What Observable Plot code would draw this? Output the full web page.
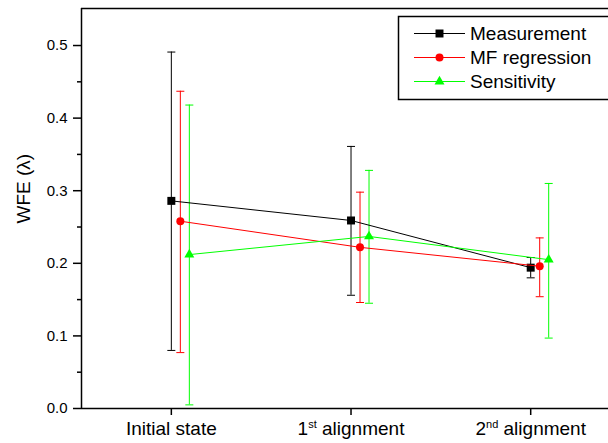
<!DOCTYPE html>
<html>
<head>
<meta charset="utf-8">
<script src="https://cdn.jsdelivr.net/npm/d3@7"></script>
<script src="https://cdn.jsdelivr.net/npm/@observablehq/plot@0.6"></script>
<style>
  html, body { margin: 0; padding: 0; background: #fff; overflow: hidden; }
  #chart { width: 608px; height: 443px; }
</style>
</head>
<body>
<div id="chart"></div>
<script>
// ---- data ----
const categories = ["Initial state", "1st alignment", "2nd alignment"];
const seriesNames = ["Measurement", "MF regression", "Sensitivity"];

const measurement     = [0.286, 0.259, 0.194];
const measurementLow  = [0.080, 0.156, 0.180];
const measurementHigh = [0.491, 0.361, 0.208];

const mfRegression     = [0.258, 0.222, 0.196];
const mfRegressionLow  = [0.077, 0.146, 0.154];
const mfRegressionHigh = [0.437, 0.298, 0.235];

const sensitivity     = [0.212, 0.237, 0.205];
const sensitivityLow  = [0.005, 0.145, 0.097];
const sensitivityHigh = [0.418, 0.328, 0.310];

const yTicks = [0, 0.1, 0.2, 0.3, 0.4, 0.5];
const yMinorTicks = [0.05, 0.15, 0.25, 0.35, 0.45];
const yLabel = "WFE (λ)";

// ---- styling ----
const colors = ["#000000", "#ff0000", "#00ff00"];
const symbols = ["square", "circle", "triangle"];
const radii = [4.5, 4, 3.7];
const offsets = [0, 9, 18];
const xDomain = [0.5, 3.433];
const yDomain = [0, 0.551];
const FONT = "'Liberation Sans', Arial, Helvetica, sans-serif";

const seriesValues = [
  [measurement, measurementLow, measurementHigh],
  [mfRegression, mfRegressionLow, mfRegressionHigh],
  [sensitivity, sensitivityLow, sensitivityHigh]
];

const capSymbol = {
  draw(context) { context.moveTo(-4, 0); context.lineTo(4, 0); }
};

const marks = [];
seriesValues.forEach(([vals, lo, hi], s) => {
  const rows = categories.map((c, i) => ({x: i + 1, y: vals[i], lo: lo[i], hi: hi[i]}));
  const o = {dx: offsets[s]};
  marks.push(
    Plot.ruleX(rows, {x: "x", y1: "lo", y2: "hi", stroke: colors[s], strokeWidth: 1, ...o}),
    Plot.dot(rows, {x: "x", y: "lo", symbol: capSymbol, fill: "none", stroke: colors[s], strokeWidth: 1, ...o}),
    Plot.dot(rows, {x: "x", y: "hi", symbol: capSymbol, fill: "none", stroke: colors[s], strokeWidth: 1, ...o})
  );
});
seriesValues.forEach(([vals], s) => {
  const rows = categories.map((c, i) => ({x: i + 1, y: vals[i]}));
  marks.push(
    Plot.line(rows, {x: "x", y: "y", stroke: colors[s], strokeWidth: 1, dx: offsets[s]}),
    Plot.dot(rows, {x: "x", y: "y", symbol: symbols[s], fill: colors[s], stroke: "none", r: radii[s], dx: offsets[s]})
  );
});

const chart = Plot.plot({
  width: 608,
  height: 443,
  marginLeft: 81,
  marginRight: 0,
  marginTop: 8,
  marginBottom: 35,
  style: {fontFamily: FONT, background: "#fff", color: "#000"},
  x: {type: "linear", domain: xDomain},
  y: {type: "linear", domain: yDomain},
  marks: [
    ...marks,
    Plot.ruleX([xDomain[0]], {stroke: "#000", strokeWidth: 1.5}),
    Plot.ruleY([yDomain[0]], {stroke: "#000", strokeWidth: 1.5}),
    Plot.ruleY([yDomain[1]], {stroke: "#000", strokeWidth: 1.5}),
    Plot.axisY({ticks: yTicks, tickSize: 8, tickPadding: 6, tickFormat: d3.format(".1f"),
                fontSize: 15, strokeWidth: 1.5, label: null}),
    Plot.axisY({ticks: yMinorTicks, tickSize: 4, tickFormat: () => "", strokeWidth: 1.5, label: null}),
    Plot.axisX({ticks: categories.map((c, i) => i + 1), tickSize: 7, tickPadding: 6,
                tickFormat: (d) => categories[d - 1], fontSize: 19, strokeWidth: 1.5, label: null}),
    Plot.text([yLabel], {text: (d) => d, frameAnchor: "left", rotate: -90, dx: -58, dy: 15,
                         fontSize: 19, fill: "#000"})
  ]
});

document.getElementById("chart").appendChild(chart);

// superscript ordinals in x tick labels
const svg = d3.select(chart);
svg.selectAll('[aria-label="x-axis tick label"] text').each(function () {
  const t = this.textContent;
  const m = t.match(/^(\d+)(st|nd|rd|th)(.*)$/);
  if (!m) return;
  const el = d3.select(this);
  el.text(null);
  el.append("tspan").text(m[1]);
  el.append("tspan").attr("font-size", 11).attr("dy", -7).text(m[2]);
  el.append("tspan").attr("dy", 7).text(m[3]);
});

// legend
const lg = svg.append("g").attr("font-family", FONT).attr("font-size", 19).attr("text-anchor", "start");
lg.append("rect").attr("x", 398.5).attr("y", 16.5).attr("width", 230).attr("height", 83)
  .attr("fill", "#fff").attr("stroke", "#000").attr("stroke-width", 1.5);
const symbolTypes = {square: d3.symbolSquare, circle: d3.symbolCircle, triangle: d3.symbolTriangle};
seriesNames.forEach((name, i) => {
  const y = 33 + 24 * i;
  lg.append("line").attr("x1", 414).attr("x2", 465).attr("y1", y + 0.5).attr("y2", y + 0.5)
    .attr("stroke", colors[i]).attr("stroke-width", 1);
  lg.append("path").attr("d", d3.symbol(symbolTypes[symbols[i]], Math.PI * radii[i] * radii[i])())
    .attr("transform", `translate(439.5,${y + 0.5})`).attr("fill", colors[i]);
  lg.append("text").attr("x", 470).attr("y", y).attr("dy", "0.35em")
    .attr("text-anchor", "start").attr("fill", "#000").text(name);
});
</script>
</body>
</html>
